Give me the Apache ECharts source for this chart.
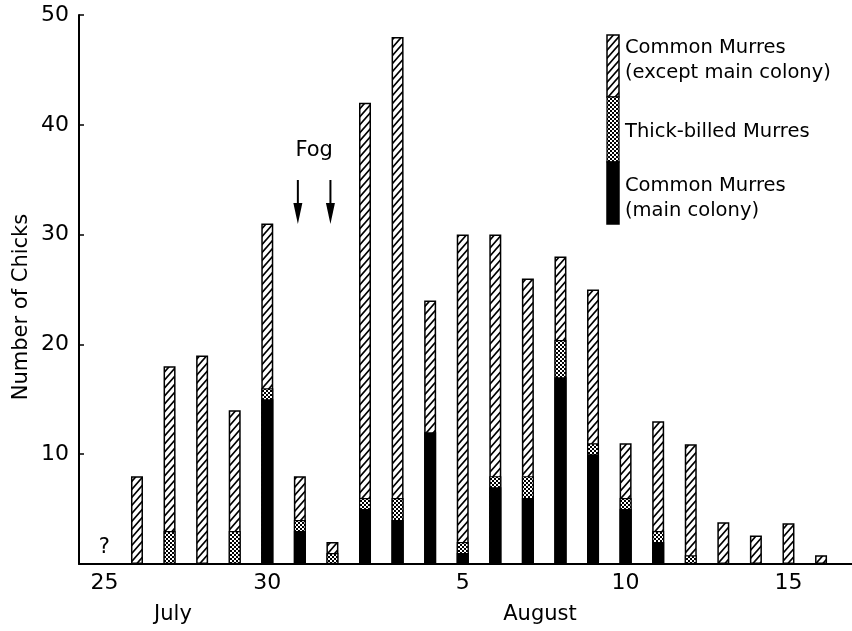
<!DOCTYPE html>
<html>
<head>
<meta charset="utf-8">
<script src="https://cdn.jsdelivr.net/npm/echarts@6/dist/echarts.min.js"></script>
<style>
html, body { margin: 0; padding: 0; background: #fff; }
#main { width: 852px; height: 631px; }
</style>
</head>
<body>
<div id="main"></div>
<script>
// day index 0 = July 25
var dayIdx = [1, 2, 3, 4, 5, 6, 7, 8, 9, 10, 11, 12, 13, 14, 15, 16, 17, 18, 19, 20, 21, 22];
var dayNames = ['Jul 26', 'Jul 27', 'Jul 28', 'Jul 29', 'Jul 30', 'Jul 31', 'Aug 1', 'Aug 2', 'Aug 3', 'Aug 4', 'Aug 5',
                'Aug 6', 'Aug 7', 'Aug 8', 'Aug 9', 'Aug 10', 'Aug 11', 'Aug 12', 'Aug 13', 'Aug 14', 'Aug 15', 'Aug 16'];
var tickDays = [0, 5, 11, 16, 21];
var tickLabels = ['25', '30', '5', '10', '15'];

// counts per day, bottom to top of each bar
var mainColony  = [0, 0, 0, 0, 15, 3, 0, 5, 4, 12, 1, 7, 6, 17, 10, 5, 2, 0, 0, 0, 0, 0];
var thickBilled = [0, 3, 0, 3, 1, 1, 1, 1, 2, 0, 1, 1, 2, 3.4, 1, 1, 1, 0.8, 0, 0, 0, 0];
var commonOther = [8, 15, 19, 11, 15, 4, 1, 36, 42, 12, 28, 22, 18, 7.6, 14, 5, 10, 10.1, 3.8, 2.6, 3.7, 0.8];

var fogDays = [6, 7];
var unknownDay = 0;

var FONT = 'DejaVu Sans';

function hatchTile() {
    var w = 7, h = 8;
    var c = document.createElement('canvas');
    c.width = w; c.height = h;
    var g = c.getContext('2d');
    g.fillStyle = '#fff';
    g.fillRect(0, 0, w, h);
    g.strokeStyle = '#000';
    g.lineWidth = 1.7;
    g.beginPath();
    for (var k = -1; k <= 1; k++) {
        g.moveTo(k * w - w * 0.2, h * 1.2);
        g.lineTo(k * w + w * 1.2, -h * 0.2);
    }
    g.stroke();
    return c;
}

function stippleTile() {
    var c = document.createElement('canvas');
    c.width = 4; c.height = 4;
    var g = c.getContext('2d');
    g.fillStyle = '#fff';
    g.fillRect(0, 0, 4, 4);
    g.fillStyle = '#000';
    g.fillRect(0, 0, 2, 2);
    g.fillRect(2, 2, 2, 2);
    return c;
}

var hatch = { image: hatchTile(), repeat: 'repeat' };
var stipple = { image: stippleTile(), repeat: 'repeat' };

// stacking done here: value x axis does not stack by index, so
// each layer is drawn from 0 up to its running total, top layer first
function runningTotal(layers, show) {
    return dayIdx.map(function (d, i) {
        var s = 0;
        layers.forEach(function (a) { s += a[i]; });
        return { name: dayNames[i], value: [d, show[i] > 0 ? s : '-'] };
    });
}

var chart = echarts.init(document.getElementById('main'));

var barBase = { type: 'bar', barWidth: 12, barGap: '-100%' };

var option = {
    animation: false,
    backgroundColor: '#fff',
    grid: { left: 79, top: 15, right: 0, bottom: 67 },
    xAxis: {
        type: 'value',
        min: -0.78,
        max: 22.95,
        splitLine: { show: false },
        axisLine: { onZero: false, lineStyle: { color: '#000', width: 2 } },
        axisTick: { show: false },
        axisLabel: {
            customValues: tickDays,
            margin: 8,
            color: '#000',
            fontSize: 22,
            fontFamily: FONT,
            formatter: function (v) {
                var i = tickDays.indexOf(Math.round(v));
                return i >= 0 ? tickLabels[i] : '';
            }
        }
    },
    yAxis: {
        type: 'value',
        min: 0,
        max: 50,
        interval: 10,
        splitLine: { show: false },
        axisLine: { show: true, onZero: false, lineStyle: { color: '#000', width: 2 } },
        axisTick: { show: true, inside: true, length: 5, lineStyle: { color: '#000', width: 1.5 } },
        axisLabel: {
            margin: 10,
            color: '#000',
            fontSize: 22,
            fontFamily: FONT,
            formatter: function (v) { return v === 0 ? '' : String(v); }
        }
    },
    series: [
        Object.assign({
            name: 'Common Murres (except main colony)',
            itemStyle: { color: hatch, borderColor: '#000', borderWidth: 1.5 },
            data: runningTotal([mainColony, thickBilled, commonOther], commonOther)
        }, barBase),
        Object.assign({
            name: 'Thick-billed Murres',
            itemStyle: { color: stipple, borderColor: '#000', borderWidth: 1.2 },
            data: runningTotal([mainColony, thickBilled], thickBilled)
        }, barBase),
        Object.assign({
            name: 'Common Murres (main colony)',
            itemStyle: { color: '#000', borderColor: '#000', borderWidth: 1.5 },
            data: runningTotal([mainColony], mainColony)
        }, barBase)
    ]
};
chart.setOption(option);

function px(x, y) { return chart.convertToPixel({ gridIndex: 0 }, [x, y]); }

var g = [];
var tx = { fill: '#000', fontFamily: FONT };

// y axis title
g.push({ type: 'text', x: 22, y: 307, rotation: Math.PI / 2,
    style: Object.assign({ text: 'Number of Chicks', fontSize: 21, align: 'center', verticalAlign: 'middle' }, tx) });

// month names
g.push({ type: 'text', x: 173, y: 615, style: Object.assign({ text: 'July', fontSize: 21, align: 'center', verticalAlign: 'middle' }, tx) });
g.push({ type: 'text', x: 540, y: 615, style: Object.assign({ text: 'August', fontSize: 21, align: 'center', verticalAlign: 'middle' }, tx) });

// "?" on July 25
var q = px(unknownDay, 1.5);
g.push({ type: 'text', x: q[0], y: q[1], style: Object.assign({ text: '?', fontSize: 21, align: 'center', verticalAlign: 'middle' }, tx) });

// fog arrows
var fx = fogDays.map(function (d) { return px(d, 0)[0] - 2; });
fx.forEach(function (x) {
    g.push({ type: 'line', shape: { x1: x, y1: 180, x2: x, y2: 208 }, style: { stroke: '#000', lineWidth: 2 } });
    g.push({ type: 'polygon', shape: { points: [[x - 4.5, 203], [x + 4.5, 203], [x, 224]] }, style: { fill: '#000' } });
});
g.push({ type: 'text', x: (fx[0] + fx[1]) / 2, y: 151,
    style: Object.assign({ text: 'Fog', fontSize: 21, align: 'center', verticalAlign: 'middle' }, tx) });

// legend column
var lx = 607, lw = 12;
g.push({ type: 'rect', shape: { x: lx, y: 35, width: lw, height: 62 }, style: { fill: hatch, stroke: '#000', lineWidth: 1.5 } });
g.push({ type: 'rect', shape: { x: lx, y: 97, width: lw, height: 65 }, style: { fill: stipple, stroke: '#000', lineWidth: 1.2 } });
g.push({ type: 'rect', shape: { x: lx, y: 162, width: lw, height: 62 }, style: { fill: '#000', stroke: '#000', lineWidth: 1.5 } });
var legendLines = [
    ['Common Murres', 48],
    ['(except main colony)', 73],
    ['Thick-billed Murres', 132],
    ['Common Murres', 186],
    ['(main colony)', 211]
];
legendLines.forEach(function (l) {
    g.push({ type: 'text', x: 625, y: l[1], style: Object.assign({ text: l[0], fontSize: 19.5, align: 'left', verticalAlign: 'middle' }, tx) });
});

chart.setOption({ graphic: g });
</script>
</body>
</html>
